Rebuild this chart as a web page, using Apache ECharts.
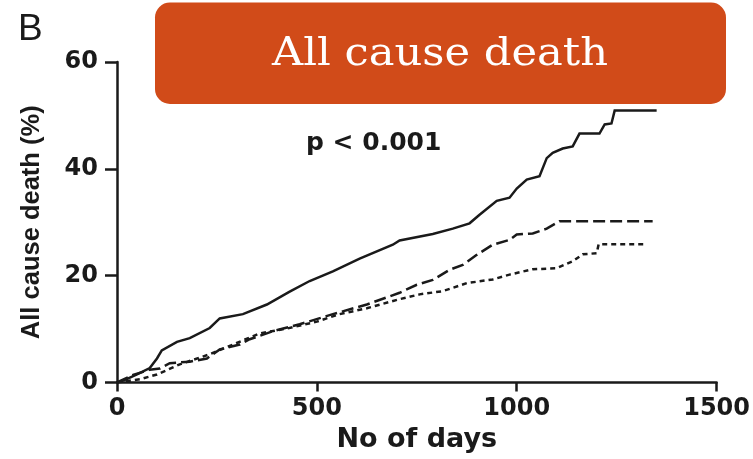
<!DOCTYPE html>
<html>
<head>
<meta charset="utf-8">
<style>
  html, body { margin: 0; padding: 0; background: #ffffff; }
  #chart { width: 753px; height: 459px; }
</style>
<script src="https://cdn.jsdelivr.net/npm/echarts@6/dist/echarts.min.js"></script>
</head>
<body>
<div id="chart"></div>
<script>
// Cumulative all-cause death (%) against follow-up time (days), three groups.
const xTicks = [0, 500, 1000, 1500];
const yTicks = [0, 20, 40, 60];

const groupSolid = [
  [0, 0], [20, 0.5], [50, 1.5], [82, 2.7], [100, 4.5], [112, 6.0], [150, 7.6], [182, 8.3],
  [232, 10.2], [257, 12.0], [315, 12.8], [375, 14.6], [432, 17.0], [482, 19.0], [540, 20.8],
  [607, 23.2], [690, 25.8], [707, 26.6], [790, 27.8], [840, 28.8], [882, 29.8], [907, 31.4],
  [950, 34.0], [982, 34.6], [1000, 36.3], [1025, 38.0], [1057, 38.6], [1075, 42.0], [1090, 43.0],
  [1115, 43.8], [1140, 44.2], [1157, 46.6], [1207, 46.6], [1220, 48.3], [1237, 48.5],
  [1245, 50.9], [1350, 50.9]
];

const groupDashed = [
  [0, 0], [40, 1.4], [82, 2.4], [107, 2.6], [132, 3.6], [182, 3.9], [225, 4.5], [257, 6.2],
  [307, 7.1], [332, 8.1], [390, 9.6], [457, 10.9], [540, 12.8], [625, 14.6], [707, 16.8],
  [750, 18.3], [790, 19.2], [832, 21.1], [865, 22.0], [900, 23.9], [940, 25.8], [982, 26.7],
  [1000, 27.7], [1040, 27.9], [1075, 28.8], [1107, 30.2], [1340, 30.2]
];

const groupDotted = [
  [0, 0], [57, 0.6], [100, 1.5], [157, 3.4], [232, 5.3], [290, 7.1], [357, 9.2], [425, 10.1],
  [500, 11.4], [557, 12.8], [625, 13.9], [707, 15.6], [757, 16.5], [815, 17.1], [875, 18.6],
  [940, 19.3], [982, 20.2], [1040, 21.2], [1100, 21.4], [1140, 22.7], [1165, 24.0], [1200, 24.2],
  [1205, 25.9], [1320, 25.9]
];

const panelLetter = 'B';
const headline = 'All cause death';
const pValueText = 'p < 0.001';
const xName = 'No of days';
const yName = 'All cause death (%)';

const sans = '"Liberation Sans", Arial, sans-serif';
const wideSans = '"DejaVu Sans", Verdana, sans-serif';
const ink = '#1a1a1a';

const chart = echarts.init(document.getElementById('chart'), null, { renderer: 'canvas' });

function curve(data, type) {
  return {
    type: 'line',
    data: data,
    showSymbol: false,
    symbol: 'none',
    silent: true,
    lineStyle: {
      color: ink,
      width: 2.5,
      type: type,
      cap: 'butt',
      join: 'miter'
    },
    z: 3
  };
}

chart.setOption({
  animation: false,
  backgroundColor: '#ffffff',
  grid: { left: 117, right: 36, top: 62, bottom: 76.5, containLabel: false },
  xAxis: {
    type: 'value',
    min: xTicks[0],
    max: xTicks[xTicks.length - 1],
    interval: xTicks[1] - xTicks[0],
    name: xName,
    nameLocation: 'middle',
    nameGap: 44,
    nameTextStyle: { fontFamily: wideSans, fontWeight: 'bold', fontSize: 27, color: ink },
    axisLine: { lineStyle: { color: ink, width: 2.5 } },
    axisTick: { show: true, inside: false, length: 9, lineStyle: { color: ink, width: 2.5 } },
    axisLabel: {
      fontFamily: wideSans, fontWeight: 'bold', fontSize: 24, color: ink, margin: 14,
      formatter: function (v) { return String(v); }
    },
    splitLine: { show: false }
  },
  yAxis: {
    type: 'value',
    min: yTicks[0],
    max: yTicks[yTicks.length - 1],
    interval: yTicks[1] - yTicks[0],
    name: yName,
    nameLocation: 'middle',
    nameGap: 72,
    nameRotate: 90,
    nameTextStyle: { fontFamily: sans, fontWeight: 'bold', fontSize: 25.5, color: ink },
    axisLine: { show: true, lineStyle: { color: ink, width: 2.5 } },
    axisTick: { show: true, inside: false, length: 12, lineStyle: { color: ink, width: 2.5 } },
    axisLabel: {
      fontFamily: wideSans, fontWeight: 'bold', fontSize: 24, color: ink, margin: 19,
      formatter: function (v) { return String(v); }
    },
    splitLine: { show: false }
  },
  series: [
    curve(groupSolid, 'solid'),
    curve(groupDashed, [12, 5]),
    curve(groupDotted, [5, 4])
  ],
  graphic: [
    {
      type: 'text',
      left: 18,
      top: 11,
      style: { text: panelLetter, font: 'normal 37px ' + sans, fill: ink }
    },
    {
      type: 'text',
      left: 306,
      top: 131,
      style: { text: pValueText, font: 'bold 25px ' + wideSans, fill: ink }
    },
    {
      type: 'group',
      z: 10,
      children: [
        {
          type: 'rect',
          shape: { x: 155, y: 2.5, width: 571, height: 101.5, r: 15 },
          style: { fill: '#D14B19' }
        },
        {
          type: 'text',
          x: 440,
          y: 55,
          scaleX: 1.08,
          style: {
            text: headline,
            font: 'normal 40px "DejaVu Serif", serif',
            fill: '#ffffff',
            textAlign: 'center',
            textVerticalAlign: 'middle'
          }
        }
      ]
    }
  ]
});
</script>
</body>
</html>
